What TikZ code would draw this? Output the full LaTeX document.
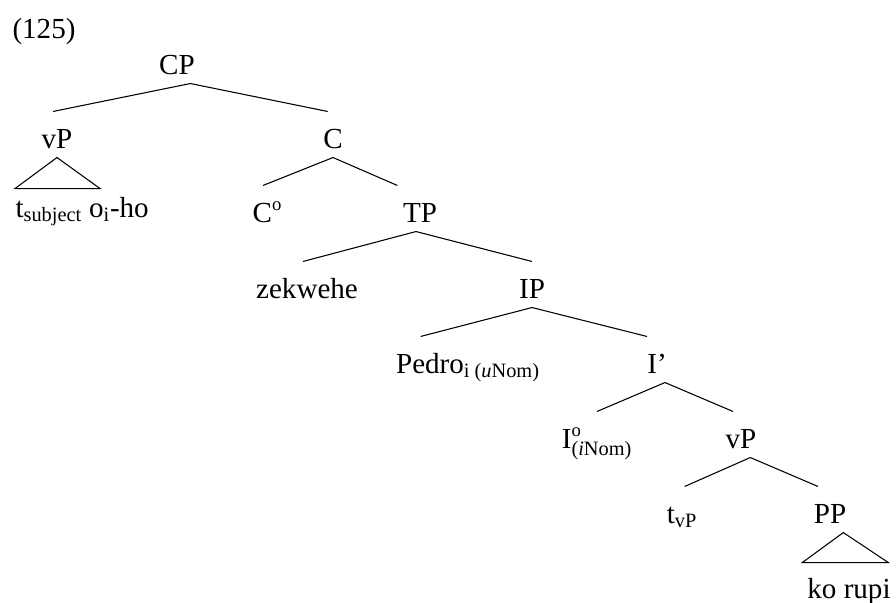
\documentclass[tikz,border=0pt]{standalone}
\usepackage{fontspec}
\setmainfont{Liberation Serif}
\newcommand\ringsup{\raisebox{8.5pt}{\fontsize{14}{14}\selectfont o}}
\begin{document}
\begin{tikzpicture}[x=0.75pt,y=-0.75pt,line width=0.8pt,
  cat/.style={anchor=base,inner sep=0pt,text height=27pt,text depth=6.75pt,
    font=\fontsize{21.8}{26}\selectfont}]
\useasboundingbox (0,0) rectangle (896,603);

\node[cat,anchor=base west] (ex) at (12,38) {(125)};

\node[cat] (CP) at (177,74) {CP};
\node[cat] (vPa) at (57,148) {vP};
\node[cat] (C) at (333,148) {C};
\node[cat] (Co) at (267,222) {C\ringsup};
\node[cat] (TP) at (420,222) {TP};
\node[cat] (zek) at (307,298) {zekwehe};
\node[cat] (IP) at (532,298) {IP};
\node[cat] (Pedro) at (430,373) {Pedro\rlap{\textsubscript{i (\textit{u}Nom)}}};
\node[cat] (Ibar) at (657,373) {I’};
\node[cat] (Io) at (597,448) {I\rlap{\ringsup}\raisebox{-2.5pt}{\textsubscript{(\textit{i}Nom)}}};
\node[cat] (vPb) at (741,448) {vP};
\node[cat] (tvP) at (682,523) {t\textsubscript{vP}};
\node[cat] (PP) at (830,523) {PP};

\node[cat,anchor=base west] (tsub) at (15,217) {t\textsubscript{subject} o\textsubscript{i}-ho};
\node[cat] (kor) at (849,598) {ko rupi};

\draw ([xshift=10pt]CP.south) -- ([xshift=-3pt]vPa.north);
\draw ([xshift=10pt]CP.south) -- ([xshift=-4pt]C.north);
\draw (C.south) -- ([xshift=-3pt]Co.north);
\draw (C.south) -- ([xshift=-17pt]TP.north);
\draw ([xshift=-3pt]TP.south) -- ([xshift=-3pt]zek.north);
\draw ([xshift=-3pt]TP.south) -- (IP.north);
\draw (IP.south) -- ([xshift=-7pt]Pedro.north);
\draw (IP.south) -- ([xshift=-7.5pt]Ibar.north);
\draw ([xshift=6pt]Ibar.south) -- (Io.north);
\draw ([xshift=6pt]Ibar.south) -- ([xshift=-6pt]vPb.north);
\draw ([xshift=7pt]vPb.south) -- ([xshift=2pt]tvP.north);
\draw ([xshift=7pt]vPb.south) -- ([xshift=-9pt]PP.north);

\draw (vPa.south) -- ++(-42,31) -- ++(85,0) -- cycle;
\draw ([xshift=10pt]PP.south) -- ++(-41,30) -- ++(86,0) -- cycle;
\end{tikzpicture}
\end{document}
